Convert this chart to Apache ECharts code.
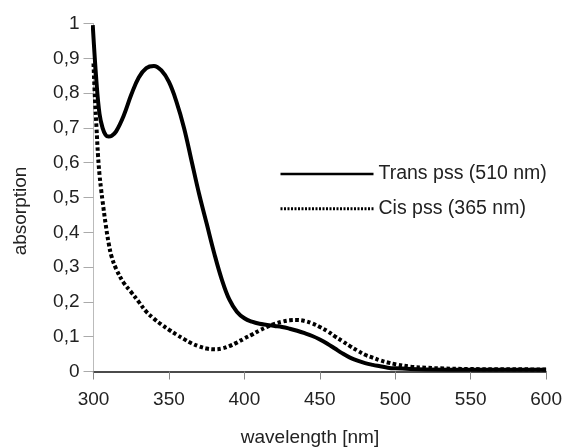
<!DOCTYPE html>
<html>
<head>
<meta charset="utf-8">
<script src="https://cdn.jsdelivr.net/npm/echarts@6/dist/echarts.min.js"></script>
<style>html,body{margin:0;padding:0;background:#fff}#c{width:565px;height:448px}</style>
</head>
<body>
<div id="c"></div>
<script>
const transWl = [299.5, 302, 304, 306, 308, 310, 312, 315, 320, 325, 330, 335, 340, 345, 350, 355, 360, 365, 370, 375, 380, 385, 390, 395, 400, 405, 410, 415, 420, 425, 430, 435, 440, 445, 450, 455, 460, 465, 470, 475, 480, 485, 490, 495, 500, 510, 520, 550, 600];
const transAbs = [0.995, 0.83, 0.74, 0.70, 0.68, 0.675, 0.677, 0.69, 0.735, 0.795, 0.845, 0.872, 0.878, 0.865, 0.832, 0.775, 0.70, 0.605, 0.51, 0.425, 0.34, 0.265, 0.207, 0.172, 0.153, 0.143, 0.137, 0.134, 0.131, 0.128, 0.123, 0.117, 0.11, 0.102, 0.092, 0.08, 0.066, 0.052, 0.04, 0.031, 0.024, 0.019, 0.015, 0.011, 0.009, 0.007, 0.006, 0.005, 0.005];
const cisWl = [300, 301, 302, 303, 304, 305, 306, 308, 310, 312, 315, 320, 325, 330, 335, 340, 345, 350, 355, 360, 365, 370, 375, 380, 385, 390, 395, 400, 405, 410, 415, 420, 425, 430, 435, 440, 445, 450, 455, 460, 465, 470, 475, 480, 485, 490, 495, 500, 510, 520, 530, 550, 600];
const cisAbs = [0.885, 0.78, 0.70, 0.62, 0.565, 0.525, 0.49, 0.425, 0.37, 0.33, 0.295, 0.255, 0.228, 0.20, 0.172, 0.152, 0.135, 0.12, 0.106, 0.093, 0.081, 0.072, 0.066, 0.064, 0.066, 0.073, 0.083, 0.095, 0.106, 0.118, 0.128, 0.137, 0.143, 0.147, 0.148, 0.145, 0.138, 0.128, 0.116, 0.101, 0.087, 0.073, 0.06, 0.048, 0.04, 0.032, 0.026, 0.021, 0.014, 0.011, 0.009, 0.007, 0.006];
const seriesNames = ['Trans pss (510 nm)', 'Cis pss (365 nm)'];
const yTickLabels = ['0', '0,1', '0,2', '0,3', '0,4', '0,5', '0,6', '0,7', '0,8', '0,9', '1'];
const xTickLabels = ['300', '350', '400', '450', '500', '550', '600'];
const xTitle = 'wavelength [nm]';
const yTitle = 'absorption';

const zip = (a, b) => a.map((v, i) => [v, b[i]]);
const chart = echarts.init(document.getElementById('c'));
const font = 'Liberation Sans, Arial, sans-serif';
chart.setOption({
  animation: false,
  backgroundColor: '#fff',
  grid: { left: 93.5, right: 18, top: 23.5, bottom: 76.5 },
  xAxis: {
    type: 'value', min: 300, max: 600, interval: 50,
    axisLine: { lineStyle: { color: '#111', width: 1.5 } },
    axisTick: { show: true, length: 8, lineStyle: { color: '#888' } },
    axisLabel: { fontSize: 19, color: '#222', fontFamily: font, margin: 19,
      formatter: (v) => xTickLabels[Math.round((v - 300) / 50)] },
    splitLine: { show: false }
  },
  yAxis: {
    type: 'value', min: 0, max: 1, interval: 0.1,
    axisLine: { show: true, lineStyle: { color: '#bbb', width: 1 } },
    axisTick: { show: true, length: 10, lineStyle: { color: '#aaa' } },
    axisLabel: { fontSize: 19, color: '#222', fontFamily: font, margin: 14,
      formatter: (v) => yTickLabels[Math.round(v * 10)] },
    splitLine: { show: false }
  },
  legend: {
    orient: 'vertical', left: 279, top: 164, padding: 0,
    itemWidth: 93, itemHeight: 22, itemGap: 14.7,
    textStyle: { fontSize: 19.5, color: '#222', fontFamily: font },
    itemStyle: { opacity: 0 },
    data: [
      { name: seriesNames[0], lineStyle: { width: 2.5 } },
      { name: seriesNames[1], lineStyle: { width: 3, type: [2, 1.5] } }
    ]
  },
  graphic: [{
    type: 'text', x: 21, y: 211, rotation: Math.PI / 2,
    style: { text: yTitle, fontSize: 19, fill: '#222', fontFamily: font, align: 'center', verticalAlign: 'middle' }
  }, {
    type: 'text', x: 310, y: 438,
    style: { text: xTitle, fontSize: 19, fill: '#222', fontFamily: font, align: 'center', verticalAlign: 'middle' }
  }],
  series: [
    { name: seriesNames[0], type: 'line', data: zip(transWl, transAbs), smooth: 0.4,
      symbol: 'none', lineStyle: { color: '#000', width: 4 }, itemStyle: { color: '#000' } },
    { name: seriesNames[1], type: 'line', data: zip(cisWl, cisAbs), smooth: 0.4,
      symbol: 'none', lineStyle: { color: '#000', width: 4, type: [3.5, 2.5], cap: 'butt' }, itemStyle: { color: '#000' } }
  ]
});
</script>
</body>
</html>
